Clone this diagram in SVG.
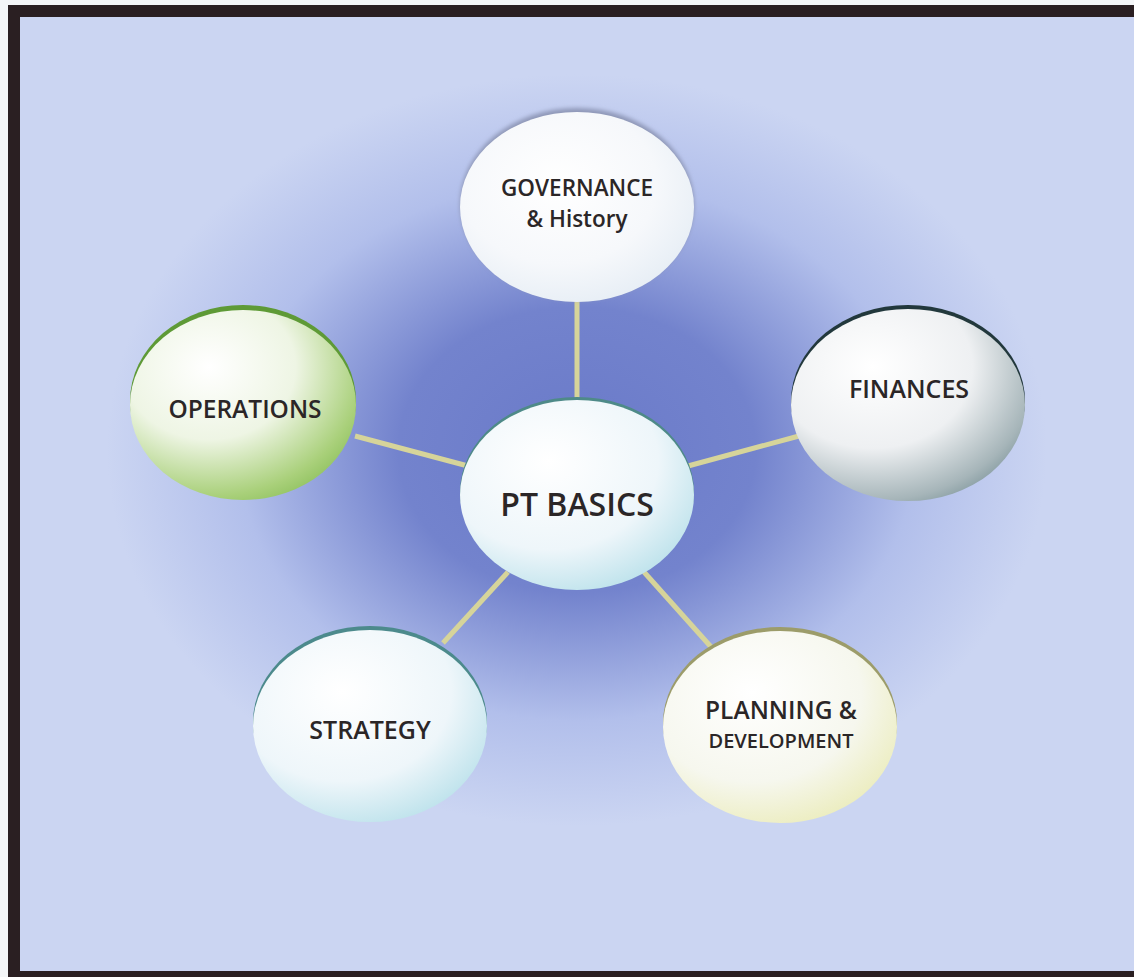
<svg xmlns="http://www.w3.org/2000/svg" width="1134" height="977" viewBox="0 0 1134 977">
<defs>
<radialGradient id="bg" cx="577" cy="450" r="470" gradientUnits="userSpaceOnUse" gradientTransform="translate(577 450) scale(1 0.8) translate(-577 -450)">
<stop offset="0" stop-color="#6a7ac9"/>
<stop offset="0.38" stop-color="#7383cd"/>
<stop offset="0.72" stop-color="#b2bfeb"/>
<stop offset="1" stop-color="#cbd5f2"/>
</radialGradient>
<radialGradient id="gWhite" cx="0.42" cy="0.38" r="0.7">
<stop offset="0" stop-color="#ffffff"/>
<stop offset="0.6" stop-color="#f6f8fb"/>
<stop offset="1" stop-color="#e4ecf4"/>
</radialGradient>
<radialGradient id="gGreen" cx="0.35" cy="0.3" r="0.85">
<stop offset="0" stop-color="#ffffff"/>
<stop offset="0.45" stop-color="#eef5e4"/>
<stop offset="0.8" stop-color="#a9d07a"/>
<stop offset="1" stop-color="#7fb84e"/>
</radialGradient>
<radialGradient id="gFin" cx="0.35" cy="0.3" r="0.85">
<stop offset="0" stop-color="#ffffff"/>
<stop offset="0.5" stop-color="#eef0f2"/>
<stop offset="0.82" stop-color="#a6b5b9"/>
<stop offset="1" stop-color="#6a868c"/>
</radialGradient>
<radialGradient id="gCyan" cx="0.38" cy="0.32" r="0.85">
<stop offset="0" stop-color="#ffffff"/>
<stop offset="0.55" stop-color="#eef6fa"/>
<stop offset="0.85" stop-color="#bfe3ec"/>
<stop offset="1" stop-color="#9fd3e0"/>
</radialGradient>
<radialGradient id="gYel" cx="0.38" cy="0.32" r="0.85">
<stop offset="0" stop-color="#ffffff"/>
<stop offset="0.55" stop-color="#f6f7ee"/>
<stop offset="0.85" stop-color="#ecedc0"/>
<stop offset="1" stop-color="#dfe29a"/>
</radialGradient>
<filter id="blur" x="-20%" y="-20%" width="140%" height="140%"><feGaussianBlur stdDeviation="2"/></filter>
</defs>
<style>
.lbl{font-family:"Open Sans","Noto Sans","Liberation Sans",sans-serif;font-weight:600;fill:#2b2627;text-anchor:middle}
.con{stroke:#d6d49a;stroke-width:5;stroke-linecap:butt}
</style>
<rect x="0" y="0" width="1134" height="977" fill="#f4f6f8"/>
<rect x="14" y="11" width="1130" height="963" fill="url(#bg)"/>
<path d="M8 5 H1134 V17 H20 V971 H1134 V977 H8 Z" fill="#2a1f22"/>
<g id="connectors">
<line class="con" x1="577" y1="300" x2="577" y2="400"/>
<line class="con" x1="355" y1="436" x2="468" y2="466"/>
<line class="con" x1="688" y1="466" x2="799" y2="436"/>
<line class="con" x1="443" y1="643" x2="508" y2="572"/>
<line class="con" x1="644" y1="572" x2="712" y2="648"/>
</g>
<g id="governance">
<ellipse cx="577" cy="204" rx="117" ry="96" fill="#8f98b8" filter="url(#blur)"/>
<ellipse cx="577" cy="207" rx="117" ry="95" fill="url(#gWhite)"/>
<text class="lbl" x="577" y="196" font-size="22.5">GOVERNANCE</text>
<text class="lbl" x="577" y="227" font-size="22.5">&amp; History</text>
</g>
<g id="operations">
<ellipse cx="243" cy="401" rx="113" ry="96" fill="#5e9a36"/>
<ellipse cx="243" cy="405" rx="113" ry="95" fill="url(#gGreen)"/>
<text class="lbl" x="245" y="418" font-size="24.5">OPERATIONS</text>
</g>
<g id="finances">
<ellipse cx="908" cy="401" rx="117" ry="96" fill="#22383c"/>
<ellipse cx="908" cy="405" rx="117" ry="96" fill="url(#gFin)"/>
<text class="lbl" x="909" y="398" font-size="25">FINANCES</text>
</g>
<g id="pt-basics">
<ellipse cx="577" cy="492" rx="117" ry="95" fill="#4e8a88"/>
<ellipse cx="577" cy="495" rx="117" ry="95" fill="url(#gCyan)"/>
<text class="lbl" x="577" y="516" font-size="32">PT BASICS</text>
</g>
<g id="strategy">
<ellipse cx="370" cy="722" rx="117" ry="96" fill="#4c8a8c"/>
<ellipse cx="370" cy="726" rx="117" ry="96" fill="url(#gCyan)"/>
<text class="lbl" x="370" y="739" font-size="25">STRATEGY</text>
</g>
<g id="planning">
<ellipse cx="780" cy="723" rx="117" ry="96" fill="#9c9c6a"/>
<ellipse cx="780" cy="727" rx="117" ry="96" fill="url(#gYel)"/>
<text class="lbl" x="781" y="719" font-size="24.5">PLANNING &amp;</text>
<text class="lbl" x="781" y="748" font-size="20">DEVELOPMENT</text>
</g>
</svg>
